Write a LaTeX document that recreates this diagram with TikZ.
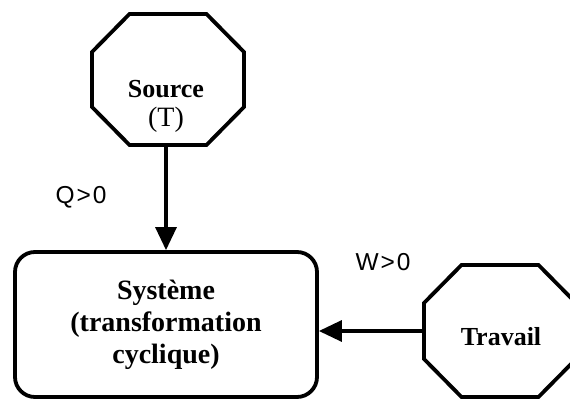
\documentclass[tikz,border=0pt]{standalone}
\usepackage{fontspec}
\setmainfont{Liberation Serif}
\newfontfamily\lblsans{Liberation Sans}[LetterSpace=8]
\usetikzlibrary{arrows.meta}
\newcommand\drawoct[1]{%
  \draw[octline] ([xshift=37.5pt]#1.north west) -- ([xshift=-37.5pt]#1.north east)
    -- ([yshift=-38pt]#1.north east) -- ([yshift=38pt]#1.south east)
    -- ([xshift=-37.5pt]#1.south east) -- ([xshift=37.5pt]#1.south west)
    -- ([yshift=38pt]#1.south west) -- ([yshift=-38pt]#1.north west) -- cycle;}
\tikzset{
  octframe/.style={minimum width=152pt, minimum height=131pt, inner sep=0pt, outer sep=0pt},
  octline/.style={line width=3.8pt, black},
  boxtext/.style={font=\fontsize{26}{31}\selectfont\bfseries, align=center, inner sep=0pt},
  sysbox/.style={draw, line width=3.8pt, rounded corners=20pt, minimum width=302pt,
    minimum height=145pt, align=center, font=\fontsize{28}{32}\selectfont\bfseries},
  arr/.style={line width=3.2pt, -{Triangle[length=23pt,width=21pt]}},
  flowlbl/.style={font=\lblsans\fontsize{24.5}{28}\selectfont, inner sep=0pt}
}
\begin{document}
\begin{tikzpicture}[x=1pt,y=-1pt]
\useasboundingbox (0,0) rectangle (570,401);
\clip (0,0) rectangle (570,401);
\fill[white] (0,0) rectangle (570,401);
% Source
\node[octframe] (src) at (168,79.5) {};
\drawoct{src}
\node[boxtext] (srctxt) at (166,106) {Source\\[-2pt]{\mdseries\fontsize{28}{31}\selectfont (T)}};
% Systeme
\node[sysbox] (sys) at (166,324.5) {Système\\(transformation\\cyclique)};
% Travail
\node[octframe, minimum height=132pt] (trav) at (500,331) {};
\drawoct{trav}
\node[boxtext] (travtxt) at (501,336.5) {Travail};
% connectors
\draw[arr] (sys.north |- src.south) -- (sys.north);
\draw[arr] (trav.west) -- (trav.west -| sys.east);
% labels
\node[flowlbl] (q) at (81,197) {Q>0};
\node[flowlbl] (w) at (383,262) {W>0};
\end{tikzpicture}
\end{document}
